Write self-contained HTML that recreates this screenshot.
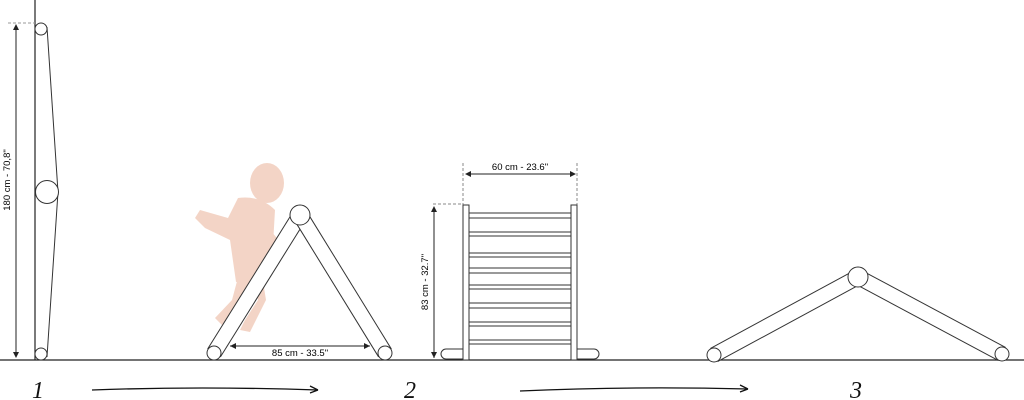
<!DOCTYPE html>
<html><head><style>body{margin:0;background:#fff}svg{display:block}</style></head><body>
<svg width="1024" height="400" viewBox="0 0 1024 400" xmlns="http://www.w3.org/2000/svg" font-family="Liberation Sans, sans-serif">
<rect width="1024" height="400" fill="#fff"/>
<line x1="0" y1="360" x2="1024" y2="360" stroke="#222" stroke-width="1.2"/>
<line x1="35" y1="0" x2="35" y2="360" stroke="#222" stroke-width="1.2"/>
<polyline points="47,27 58,192 47,357" fill="none" stroke="#333" stroke-width="1"/>
<circle cx="41" cy="29" r="6" fill="#fff" stroke="#333"/>
<circle cx="41" cy="354" r="6" fill="#fff" stroke="#333"/>
<circle cx="47" cy="192" r="11.5" fill="#fff" stroke="#333"/>
<line x1="8" y1="23" x2="35" y2="23" stroke="#999" stroke-dasharray="3,2"/>
<line x1="16" y1="26" x2="16" y2="357" stroke="#222"/>
<path d="M13,30 L16,24 L19,30Z M13,352 L16,358 L19,352Z" fill="#222"/>
<text x="10" y="180" font-size="9.5" text-anchor="middle" transform="rotate(-90 10 180)">180 cm - 70,8"</text>
<g fill="#efc3ae" opacity="0.7">
<ellipse cx="267" cy="183" rx="17" ry="20"/>
<path d="M238,198 Q260,195 275,210 L272,262 L260,280 L236,282 L230,240 L205,228 L195,218 L200,210 L228,218Z"/>
<path d="M240,270 L232,300 L215,318 L222,325 L242,305 L250,282Z"/>
<path d="M252,275 L258,300 L245,320 L240,330 L250,332 L266,300 L262,275Z"/>
<path d="M270,230 L283,245 L278,252 L265,240Z"/>
</g>
<g>
<line x1="300" y1="215" x2="214" y2="353" stroke="#333" stroke-width="16"/>
<line x1="300" y1="215" x2="214" y2="353" stroke="#fff" stroke-width="14"/>
<line x1="300" y1="215" x2="385" y2="353" stroke="#333" stroke-width="16"/>
<line x1="300" y1="215" x2="385" y2="353" stroke="#fff" stroke-width="14"/>
<circle cx="214" cy="353" r="7" fill="#fff" stroke="#333"/>
<circle cx="385" cy="353" r="7" fill="#fff" stroke="#333"/>
<circle cx="300" cy="215" r="10" fill="#fff" stroke="#333"/>
<line x1="230" y1="346" x2="370" y2="346" stroke="#222"/>
<path d="M230,346 l6,-3 v6Z M370,346 l-6,-3 v6Z" fill="#222"/>
<text x="300" y="356" font-size="9.5" text-anchor="middle">85 cm - 33.5"</text>
</g>
<g stroke="#333" fill="#fff">
<line x1="463" y1="163" x2="463" y2="205" stroke="#888" stroke-dasharray="3,2"/>
<line x1="577" y1="163" x2="577" y2="205" stroke="#888" stroke-dasharray="3,2"/>
<line x1="433" y1="204" x2="463" y2="204" stroke="#888" stroke-dasharray="3,2"/>
<path d="M446,349 h18 v10 h-18 a5,5 0 0 1 0,-10Z"/>
<path d="M594,349 h-18 v10 h18 a5,5 0 0 0 0,-10Z"/>
<rect x="463" y="205" width="6" height="155"/>
<rect x="571" y="205" width="6" height="155"/>
<rect x="469" y="213" width="102" height="5"/>
<rect x="469" y="232" width="102" height="4"/>
<rect x="469" y="253" width="102" height="4"/>
<rect x="469" y="268" width="102" height="5"/>
<rect x="469" y="285" width="102" height="4"/>
<rect x="469" y="303" width="102" height="5"/>
<rect x="469" y="322" width="102" height="4"/>
<rect x="469" y="340" width="102" height="4"/>
</g>
<line x1="466" y1="174" x2="575" y2="174" stroke="#222"/>
<path d="M465,174 l6,-3 v6Z M576,174 l-6,-3 v6Z" fill="#222"/>
<text x="520" y="170" font-size="9.5" text-anchor="middle">60 cm - 23.6"</text>
<line x1="434" y1="207" x2="434" y2="358" stroke="#222"/>
<path d="M431,212 L434,206 L437,212Z M431,352 L434,358 L437,352Z" fill="#222"/>
<text x="428" y="282" font-size="9.5" text-anchor="middle" transform="rotate(-90 428 282)">83 cm - 32.7"</text>
<line x1="858" y1="277" x2="714" y2="355" stroke="#333" stroke-width="16"/>
<line x1="858" y1="277" x2="714" y2="355" stroke="#fff" stroke-width="14"/>
<line x1="858" y1="277" x2="1002" y2="354" stroke="#333" stroke-width="16"/>
<line x1="858" y1="277" x2="1002" y2="354" stroke="#fff" stroke-width="14"/>
<circle cx="714" cy="355" r="7" fill="#fff" stroke="#333"/>
<circle cx="1002" cy="354" r="7" fill="#fff" stroke="#333"/>
<circle cx="858" cy="277" r="10" fill="#fff" stroke="#333"/>
<g font-family="Liberation Serif, serif" font-style="italic" font-size="24" fill="#111">
<text x="32" y="398">1</text><text x="404" y="398">2</text><text x="850" y="398">3</text>
</g>
<path d="M92,390 Q200,386 318,390" fill="none" stroke="#111" stroke-width="1.3"/>
<path d="M318,390 l-8,-4 M318,390 l-8,3" stroke="#111" stroke-width="1.3"/>
<path d="M520,391 Q630,386 748,389" fill="none" stroke="#111" stroke-width="1.3"/>
<path d="M748,389 l-8,-4 M748,389 l-8,3" stroke="#111" stroke-width="1.3"/>
</svg>
</body></html>
